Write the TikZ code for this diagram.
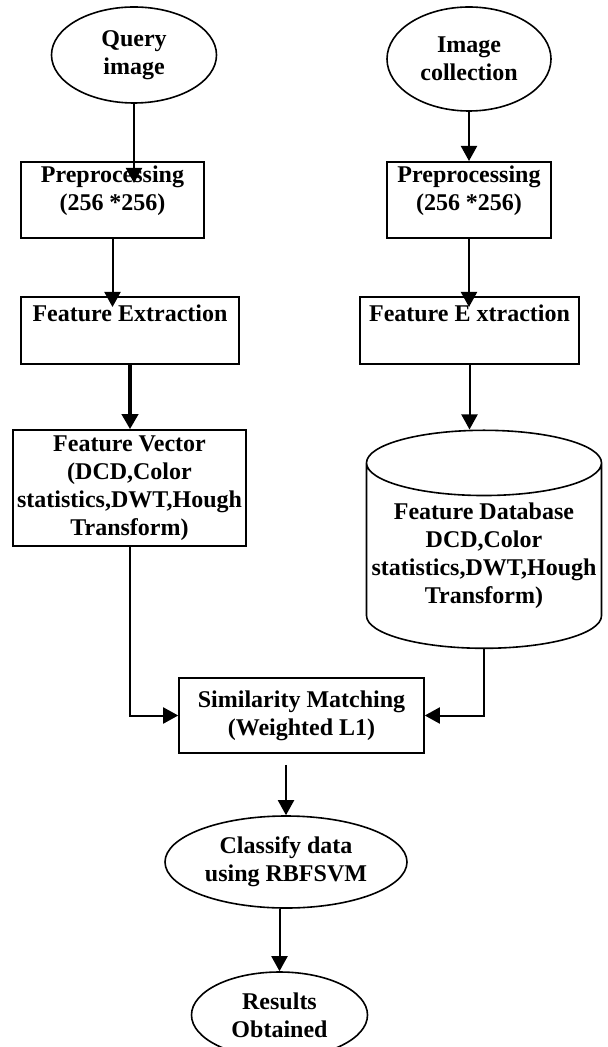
\documentclass[tikz,border=0pt]{standalone}
\usepackage{fontspec}
\setmainfont{Liberation Serif}
\usetikzlibrary{shapes.geometric,arrows.meta}
\begin{document}
\begin{tikzpicture}[x=0.5pt,y=-0.5pt,>={Triangle[length=7.5pt,width=8pt]},font=\bfseries\fontsize{12}{14}\selectfont]
        \tikzstyle{block}=[rectangle,draw=black,line width=0.8pt,align=center,inner sep=2pt]
        \tikzstyle{topblock}=[block,anchor=north,text height=22.5pt,text depth=11.5pt]
        \tikzstyle{terminal}=[ellipse,draw=black,line width=0.8pt,align=center,inner sep=0pt]
        \tikzstyle{store}=[cylinder,shape border rotate=90,aspect=0.29,draw=black,line width=0.8pt,align=center,inner sep=0pt]
        \tikzstyle{flow}=[draw,->,line width=1pt]
        \useasboundingbox (0,0) rectangle (608,1047);
       % query side
       \begin{scope}
         \node [terminal,minimum width=82.5pt,minimum height=48pt] (qimg) at (134,55) {Query\\image};
         \node [topblock,minimum width=91.5pt] (prel) at (112.5,161) {Preprocessing\\(256 *256)};
         \node [block,anchor=north,minimum width=109pt,text height=10.5pt,text depth=19pt] (fel) at (130,296) {Feature Extraction};
         \node [block,minimum width=116.5pt,minimum height=58pt,inner sep=0pt] (fvec) at (129.5,488) {Feature Vector\\(DCD,Color\\statistics,DWT,Hough\\Transform)};
         \path[flow,shorten >=-11pt] (qimg.south) -- (qimg.south |- prel.north);
         \path[flow,shorten >=-5.5pt] (prel.south) -- (prel.south |- fel.north);
         \path[flow,line width=2pt] (fel.south) -- (fel.south |- fvec.north);
        \end{scope}
       % collection side
       \begin{scope}
         \node [terminal,minimum width=82pt,minimum height=52pt] (cimg) at (469,59) {Image\\collection};
         \node [topblock,minimum width=82pt] (prer) at (469,161) {Preprocessing\\(256 *256)};
         \node [block,anchor=north,minimum width=109.5pt,text height=10.5pt,text depth=19pt] (fer) at (469.5,296) {Feature E xtraction};
         \node [store,minimum width=117.5pt,minimum height=109pt] (fdb) at (484,556) {Feature Database\\DCD,Color\\statistics,DWT,Hough\\Transform)};
         \path[flow] (cimg.south) -- (cimg.south |- prer.north);
         \path[flow,shorten >=-5.5pt] (prer.south) -- (prer.south |- fer.north);
         \path[flow] (fer.south) -- (fer.south |- fdb.north);
        \end{scope}
       % matching and classification
       \begin{scope}
         \node [block,minimum width=122.5pt,minimum height=37.5pt] (sim) at (301.5,715.5) {Similarity Matching\\(Weighted L1)};
         \node [terminal,minimum width=121pt,minimum height=46pt] (cls) at (286,862) {Classify data\\using RBFSVM};
         \node [terminal,minimum width=88pt,minimum height=43pt] (res) at (279.5,1015) {Results\\Obtained};
         \path[flow] (fvec.south) |- (sim.west);
         \path[flow] (fdb.south) |- (sim.east);
         \path[flow] (cls.north |- sim.south) ++(0,11) -- (cls.north);
         \path[flow] (res.north |- cls.south) -- (res.north);
        \end{scope}
      \end{tikzpicture}
\end{document}
